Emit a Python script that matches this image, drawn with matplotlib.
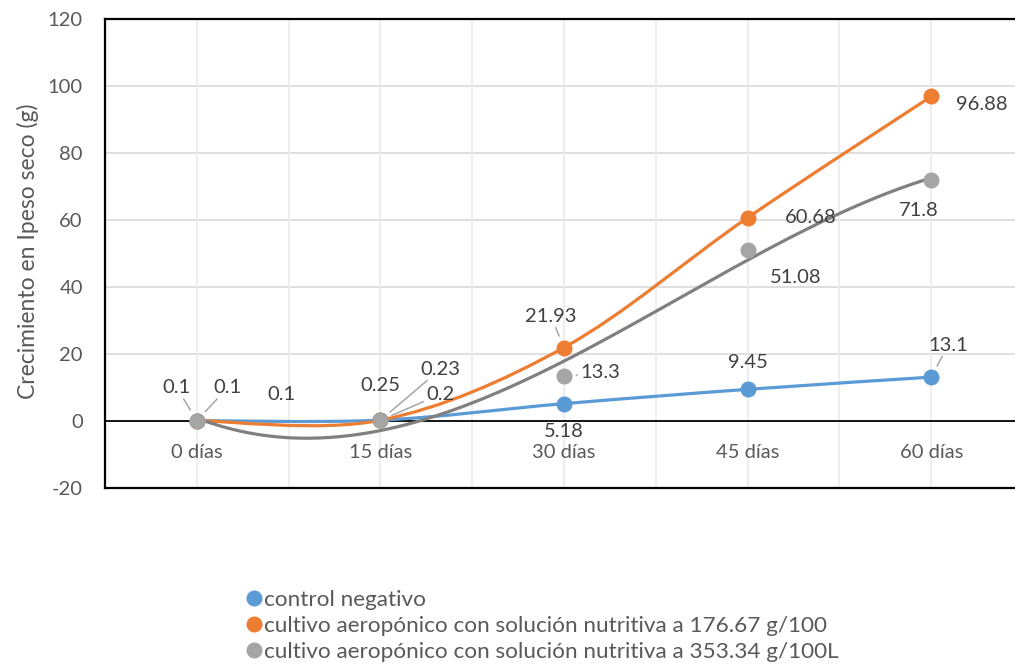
import numpy as np
import matplotlib
matplotlib.use("Agg")
import matplotlib.pyplot as plt
from matplotlib.lines import Line2D
from matplotlib.path import Path
from matplotlib.patches import PathPatch
import matplotlib.transforms as mtransforms

plt.rcParams['font.family'] = ['Lato', 'DejaVu Sans']

# ---------------- data ----------------
categories = ["0 días", "15 días", "30 días", "45 días", "60 días"]
control = [0.1, 0.25, 5.18, 9.45, 13.1]
cultivo_176 = [0.1, 0.23, 21.93, 60.68, 96.88]
cultivo_353 = [0.1, 0.2, 13.3, 51.08, 71.8]
series_names = ["control negativo",
                "cultivo aeropónico con solución nutritiva a 176.67 g/100",
                "cultivo aeropónico con solución nutritiva a 353.34 g/100L"]
y_ticks = [-20, 0, 20, 40, 60, 80, 100, 120]
y_label = "Crecimiento en Ipeso seco (g)"

# ---------------- style / layout ----------------
c_blue = "#5B9BD5"
c_orange = "#ED7D31"
c_gray = "#A5A5A5"
c_trend = "#808080"
txt_col = "#595959"
lab_col = "#404040"
lead_col = "#A6A6A6"

# label offsets in pixels (dx, dy) and whether a leader line is drawn
offs_blue = [(-20, 33), (0, 35), (0, -28), (0, 27), (17, 32)]
lead_blue = [True, False, False, False, True]
offs_orange = [(31, 33), (60, 51), (-13, 31), (63, 0), (51, -8)]
lead_orange = [True, True, True, False, False]
offs_gray = [(85, 26), (60, 26), (36, 4), (48, -28), (-12, -30)]
lead_gray = [False, True, True, False, False]

W, H = 1015, 666
fig = plt.figure(figsize=(W / 100, H / 100), dpi=100)
left_px, right_px, top_px, bot_px = 105, 1023, 19, 488
ax = fig.add_axes([left_px / W, 1 - bot_px / H, (right_px - left_px) / W, (bot_px - top_px) / H])

x = np.arange(len(categories))


def smooth(xs, ys):
    """Excel-like smoothed line: cubic Bezier with Catmull-Rom control points."""
    P = np.column_stack([xs, ys]).astype(float)
    m = len(P)
    verts = [P[0]]
    codes = [Path.MOVETO]
    for i in range(m - 1):
        p_prev = P[i - 1] if i > 0 else P[i]
        p_next2 = P[i + 2] if i + 2 < m else P[i + 1]
        c1 = P[i] + (P[i + 1] - p_prev) / 6
        c2 = P[i + 1] - (p_next2 - P[i]) / 6
        verts += [c1, c2, P[i + 1]]
        codes += [Path.CURVE4] * 3
    return Path(verts, codes)


ax.set_xlim(-0.5, len(categories) - 0.5)
ax.set_ylim(y_ticks[0], y_ticks[-1])

# gridlines
for yv in y_ticks:
    if yv not in (y_ticks[0], 0, y_ticks[-1]):
        ax.axhline(yv, color="#D9D9D9", lw=1.2, zorder=0)
for xv in np.arange(0, len(categories), 0.5):
    ax.axvline(xv, color="#EBEBEB", lw=1.2, zorder=0)
ax.axhline(0, color="black", lw=1.3, zorder=1)

# lines
ax.add_patch(PathPatch(smooth(x, control), fill=False, edgecolor=c_blue, lw=2.3, zorder=3,
                       capstyle='round'))
ax.add_patch(PathPatch(smooth(x, cultivo_176), fill=False, edgecolor=c_orange, lw=2.3, zorder=3,
                       capstyle='round'))
coef = np.polyfit(x, cultivo_353, 3)
xf = np.linspace(x[0], x[-1], 300)
ax.plot(xf, np.polyval(coef, xf), color=c_trend, lw=2.3, zorder=3, solid_capstyle='round')

# markers
ax.plot(x, control, 'o', color=c_blue, ms=10.5, zorder=5)
ax.plot(x, cultivo_176, 'o', color=c_orange, ms=10.5, zorder=5)
ax.plot(x, cultivo_353, 'o', color=c_gray, ms=10.5, zorder=5.5)

# data labels
def add_labels(vals, offs, leads):
    for xi, v, (dx, dy), ld in zip(x, vals, offs, leads):
        ax.annotate(f"{v:g}", (xi, v), xytext=(dx, dy), textcoords='offset pixels',
                    ha='center', va='center', fontsize=14.5, color=lab_col, zorder=6,
                    arrowprops=dict(arrowstyle='-', color=lead_col, lw=1.1,
                                    shrinkA=0, shrinkB=9) if ld else None)

add_labels(control, offs_blue, lead_blue)
add_labels(cultivo_176, offs_orange, lead_orange)
add_labels(cultivo_353, offs_gray, lead_gray)

# axes styling
for s in ['top', 'bottom', 'left']:
    ax.spines[s].set_linewidth(1.6)
    ax.spines[s].set_color('black')
ax.spines['right'].set_visible(False)
ax.set_yticks(y_ticks)
ax.set_yticklabels([str(t) for t in y_ticks])
ax.tick_params(axis='y', length=0, pad=16, labelsize=14.5, labelcolor=txt_col)
ax.set_xticks([])

# category labels at the zero line
trans = mtransforms.offset_copy(ax.transData, fig=fig, x=0, y=-31, units='dots')
for xi, c in zip(x, categories):
    ax.text(xi, 0, c, transform=trans, ha='center', va='center', fontsize=14.5, color=txt_col)

fig.text(28 / W, 1 - 251 / H, y_label, rotation=90, ha='center', va='center',
         fontsize=16.5, color=txt_col)

# legend
handles = [Line2D([], [], marker='o', ls='none', color=c, ms=10.5)
           for c in (c_blue, c_orange, c_gray)]
fig.legend(handles, series_names, loc='upper left', bbox_to_anchor=(248 / W, 1 - 590 / H),
           frameon=False, fontsize=16.2, labelcolor=txt_col, handlelength=0.5,
           handletextpad=0.2, labelspacing=0.26, borderpad=0, borderaxespad=0)

fig.savefig("out.png", dpi=100)
